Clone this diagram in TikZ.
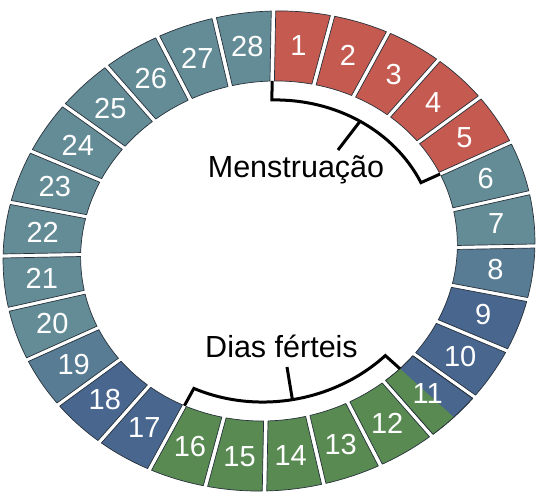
\documentclass[tikz,border=0pt]{standalone}
\usepackage{fontspec}
\setmainfont{Liberation Sans}
\definecolor{menred}{RGB}{196,90,80}
\definecolor{tealA}{RGB}{100,140,150}
\definecolor{tealB}{RGB}{88,124,148}
\definecolor{blueC}{RGB}{72,102,142}
\definecolor{fgreen}{RGB}{88,138,82}
\definecolor{segline}{RGB}{40,50,60}
\tikzset{
  segstyle/.style={draw=segline, line width=0.7pt, line join=round},
  numstyle/.style={text=white, font=\fontsize{29}{29}\selectfont, inner sep=0pt},
  brk/.style={draw=black, line width=3pt, line join=miter},
  lbl/.style={text=black, font=\fontsize{30.5}{31}\selectfont, inner sep=0pt, anchor=base}
}
\begin{document}
\begin{tikzpicture}[x=1pt,y=1pt]
\useasboundingbox (0,0) rectangle (544,493);
\fill[white] (0,0) rectangle (544,493);
\begin{scope}[cm={1.108,0.0208,0.01875,1,(269,242)}]
  \foreach \i/\col in {1/menred,2/menred,3/menred,4/menred,5/menred,6/tealA,7/tealA,8/tealB,9/blueC,10/blueC,11/blueC,12/fgreen,13/fgreen,14/fgreen,15/fgreen,16/fgreen,17/blueC,18/blueC,19/tealB,20/tealA,21/tealA,22/tealA,23/tealA,24/tealA,25/tealA,26/tealA,27/tealA,28/tealA} {
    \pgfmathsetmacro\sa{90-(\i-1)*360/28}
    \pgfmathsetmacro\sb{\sa-360/28}
    \pgfmathsetmacro\oa{\sa-0.48}
    \pgfmathsetmacro\ob{\sb+0.48}
    \pgfmathsetmacro\ia{\sa-0.67}
    \pgfmathsetmacro\ib{\sb+0.67}
    \filldraw[segstyle, fill=\col] (\oa:240) arc[start angle=\oa, end angle=\ob, radius=240] -- (\ib:170) arc[start angle=\ib, end angle=\ia, radius=170] -- cycle;
  }
  % segment 11: green half next to 12
  \fill[fgreen] (-45:240) arc[start angle=-45, end angle=-50.949, radius=240] -- (-50.759:170) arc[start angle=-50.759, end angle=-45, radius=170] -- cycle;
  \draw[segstyle] (-39.051:240) arc[start angle=-39.051, end angle=-50.949, radius=240] -- (-50.759:170) arc[start angle=-50.759, end angle=-39.241, radius=170] -- cycle;
  \foreach \i in {1,...,28} {
    \pgfmathsetmacro\sm{90-(\i-0.5)*360/28}
    \node[numstyle] (n\i) at (\sm:206) {\i};
  }
  % brackets
  \coordinate (m1) at (90:170);
  \coordinate (m2) at (90:151);
  \coordinate (m3) at (25.714:170);
  \coordinate (mp) at (58:151);
  \draw[brk] (m1) -- (m2) arc[start angle=90, end angle=25.714, radius=151] -- (m3);
  \coordinate (f1) at (-45:170);
  \coordinate (f2) at (-45:151);
  \coordinate (f3) at (-115.714:170);
  \coordinate (fp) at (-81:151);
  \draw[brk] (f1) -- (f2) arc[start angle=-45, end angle=-115.714, radius=151] -- (f3);
\end{scope}
\node[lbl] (men) at (296,315) {Menstruação};
\node[lbl] (fer) at (281.5,135) {Dias férteis};
\coordinate (mq) at (338,343);
\coordinate (fq) at (287,126);
\draw[brk] (mp) -- (mq);
\draw[brk] (fp) -- (fq);
\end{tikzpicture}
\end{document}
